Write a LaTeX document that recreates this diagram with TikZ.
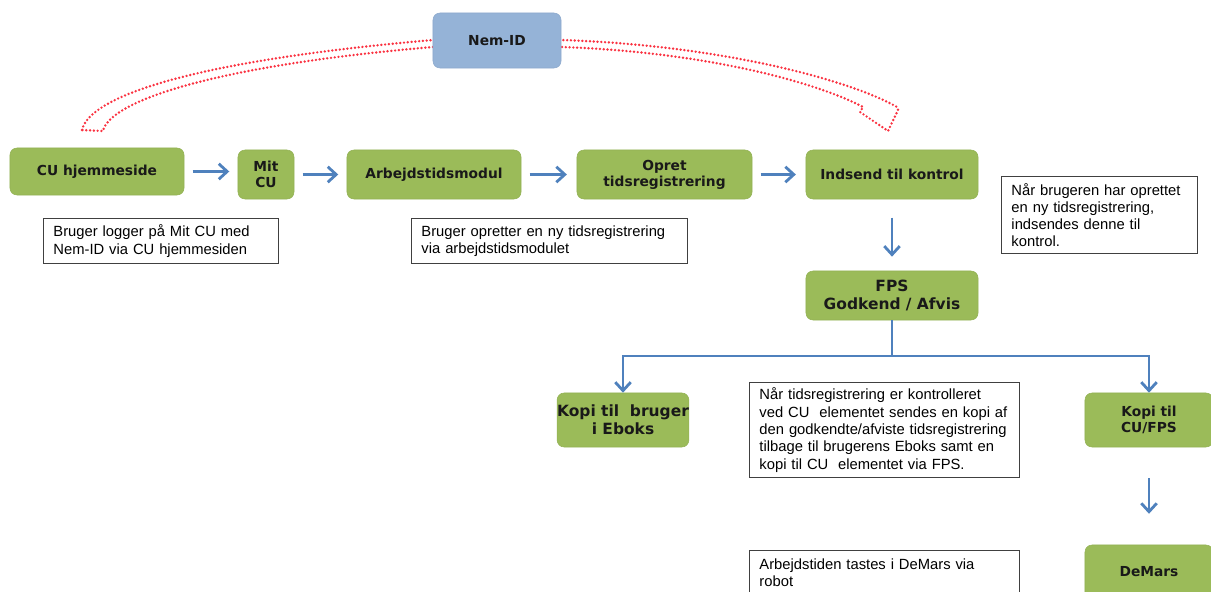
\documentclass[tikz,border=0pt]{standalone}
\usepackage{fontspec}
\setmainfont{DejaVu Sans}
\newfontfamily\notefont{Liberation Sans}
\usetikzlibrary{arrows.meta}

\definecolor{boxgreen}{RGB}{155,187,89}
\definecolor{idblue}{RGB}{149,179,215}
\definecolor{flowblue}{RGB}{79,129,189}
\definecolor{dotred}{RGB}{250,50,65}

\begin{document}
\begin{tikzpicture}[x=0.025cm,y=-0.025cm,
		greenbox/.style={draw=boxgreen!95!black, fill=boxgreen, rounded corners=5pt,
			align=center, inner sep=2pt, text=black!90,
			font=\bfseries\fontsize{9.8}{11.5}\selectfont},
		note/.style={draw=black!75, line width=0.9pt, fill=white, align=left,
			inner xsep=7pt, inner ysep=3pt, anchor=north west, text width=#1,
			font=\notefont\fontsize{10.5}{12.3}\selectfont},
		flow/.style={draw=flowblue, line width=2pt,
			-{Straight Barb[length=6pt,width=11pt]}},
		dots/.style={draw=dotred, line width=1.9pt, line cap=round,
			dash pattern=on 0pt off 2.7pt}]

	\useasboundingbox (0,0) rectangle (1211,592);

	% dotted block arrow behind Nem-ID
	\draw [dots] (82,130) .. controls (90,95) and (200,60) .. (433,40)
		-- (561,40) .. controls (720,45) and (850,80) .. (897,107)
		-- (898,110) -- (888,131) -- (860,112) -- (863,107)
		.. controls (820,84) and (710,52) .. (561,47)
		-- (433,47) .. controls (220,65) and (110,100) .. (103,131)
		-- cycle;

	\node [greenbox, fill=idblue, draw=idblue!95!black, minimum width=3.2cm,
		minimum height=1.375cm] (nemid) at (497,40.5) {Nem-ID};

	% top row
	\node [greenbox, minimum width=4.35cm, minimum height=1.175cm] (cuhome)
		at (97,171.5) {CU hjemmeside};
	\node [greenbox, minimum width=1.4cm, minimum height=1.225cm] (mitcu)
		at (266,174.5) {Mit\\CU};
	\node [greenbox, minimum width=4.35cm, minimum height=1.225cm] (modul)
		at (434,174.5) {Arbejdstidsmodul};
	\node [greenbox, minimum width=4.375cm, minimum height=1.225cm] (opret)
		at (664.5,174.5) {Opret\\tidsregistrering};
	\node [greenbox, minimum width=4.3cm, minimum height=1.225cm] (indsend)
		at (892,174.5) {Indsend til kontrol};

	\draw [flow, shorten <=6pt, shorten >=6pt] (cuhome) -- (cuhome -| mitcu.west);
	\draw [flow, shorten <=6pt, shorten >=6pt] (mitcu) -- (modul);
	\draw [flow, shorten <=6pt, shorten >=7pt] (modul) -- (opret);
	\draw [flow, shorten <=6pt, shorten >=7pt] (opret) -- (indsend);

	% notes
	\node [note=5.38cm, minimum height=1.125cm] (login) at (43,218)
		{Bruger logger på Mit CU med\\Nem-ID via CU hjemmesiden};
	\node [note=6.41cm, minimum height=1.125cm] (create) at (411,218)
		{Bruger opretter en ny tidsregistrering\\via arbejdstidsmodulet};
	\node [note=4.41cm, minimum height=1.925cm] (submit) at (1001,176)
		{Når brugeren har oprettet\\en ny tidsregistrering,\\indsendes denne til\\kontrol.};

	% control
	\node [greenbox, minimum width=4.3cm, minimum height=1.225cm,
		font=\bfseries\fontsize{11}{13}\selectfont] (fps)
		at (892,295.5) {FPS\\Godkend / Afvis};
	\draw [flow, shorten <=13pt, shorten >=10pt] (indsend) -- (fps);

	\node [greenbox, minimum width=3.2cm, minimum height=1.35cm, inner xsep=0pt,
		font=\bfseries\fontsize{11}{13}\selectfont] (eboks)
		at (623,420) {Kopi til~~bruger\\i Eboks};
	\node [greenbox, minimum width=3.2cm, minimum height=1.35cm] (cufps)
		at (1149,420) {Kopi til\\CU/FPS};
	\node [greenbox, minimum width=3.2cm, minimum height=1.35cm] (demars)
		at (1149,572) {DeMars};

	\coordinate (fork) at (892,356);
	\draw [flow] (fps.south) -- (fork) -| (eboks.north);
	\draw [flow] (fork) -| (cufps.north);
	\draw [flow, shorten <=22pt, shorten >=22pt] (cufps) -- (demars);

	\node [note=6.26cm, minimum height=2.375cm] (copy) at (749,382)
		{Når tidsregistrering er kontrolleret\\ved CU~ elementet sendes en kopi af\\den godkendte/afviste tidsregistrering\\tilbage til brugerens Eboks samt en\\kopi til CU~ elementet via FPS.};
	\node [note=6.26cm, minimum height=1.1cm] (robot) at (749,550)
		{Arbejdstiden tastes i DeMars via\\robot};

\end{tikzpicture}
\end{document}
